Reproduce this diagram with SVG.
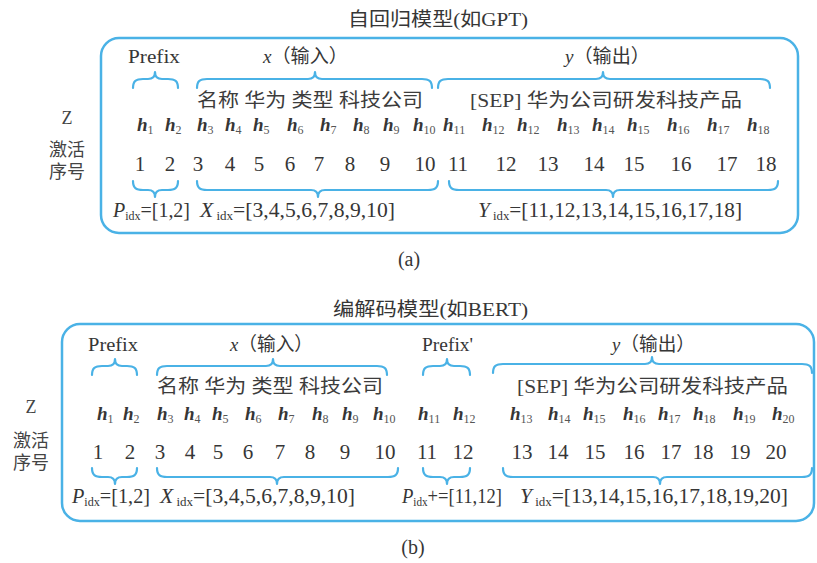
<svg xmlns="http://www.w3.org/2000/svg" width="817" height="563" viewBox="0 0 817 563">
<style>
text{font-family:"Liberation Serif","Noto Sans CJK SC",serif;fill:#363636;}
.ttl{font-size:19px;}
.lab{font-size:19px;}
.zh{font-size:19px;fill:#3c3c3c;}
.h{font-size:19px;font-weight:bold;font-style:italic;}
.s{font-size:12px;font-weight:normal;font-style:normal;fill:#555;}
.n{font-size:21px;text-anchor:middle;}
.idx{font-size:20px;}
.it{font-style:italic;}
.ss{font-size:12px;}
.side{font-size:18px;text-anchor:middle;fill:#444;}
.box{fill:none;stroke:#4ab2e6;stroke-width:2.5;}
.br{fill:none;stroke:#4ab2e6;stroke-width:2.2;stroke-linecap:round;stroke-linejoin:round;}
</style>
<rect width="817" height="563" fill="#ffffff"/>

<!-- Panel (a) -->
<g id="panel-a">
  <text class="ttl" x="348" y="26" textLength="180" lengthAdjust="spacingAndGlyphs">自回归模型(如GPT)</text>
  <rect class="box" x="101" y="38" width="697" height="195" rx="18"/>
  <g id="a-side">
    <text class="side" x="67" y="124">Z</text>
    <text class="side" x="67" y="156">激活</text>
    <text class="side" x="67" y="178">序号</text>
  </g>
  <g id="a-prefix">
    <text class="lab" x="128" y="63" textLength="52" lengthAdjust="spacingAndGlyphs">Prefix</text>
  </g>
  <g id="a-x">
    <text class="lab" x="263" y="63" textLength="85" lengthAdjust="spacingAndGlyphs"><tspan class="it">x</tspan>（输入）</text>
    <text class="zh" x="197" y="107" textLength="226" lengthAdjust="spacingAndGlyphs">名称 华为 类型 科技公司</text>
  </g>
  <g id="a-y">
    <text class="lab" x="565" y="63" textLength="85" lengthAdjust="spacingAndGlyphs"><tspan class="it">y</tspan>（输出）</text>
    <text class="zh" x="470" y="107" textLength="272" lengthAdjust="spacingAndGlyphs">[SEP] 华为公司研发科技产品</text>
  </g>
  <g id="a-h">
    <text class="h" x="137" y="131">h<tspan class="s" dy="3">1</tspan></text>
    <text class="h" x="165" y="131">h<tspan class="s" dy="3">2</tspan></text>
    <text class="h" x="197" y="131">h<tspan class="s" dy="3">3</tspan></text>
    <text class="h" x="225" y="131">h<tspan class="s" dy="3">4</tspan></text>
    <text class="h" x="253" y="131">h<tspan class="s" dy="3">5</tspan></text>
    <text class="h" x="287" y="131">h<tspan class="s" dy="3">6</tspan></text>
    <text class="h" x="320" y="131">h<tspan class="s" dy="3">7</tspan></text>
    <text class="h" x="353" y="131">h<tspan class="s" dy="3">8</tspan></text>
    <text class="h" x="383" y="131">h<tspan class="s" dy="3">9</tspan></text>
    <text class="h" x="413" y="131">h<tspan class="s" dy="3">10</tspan></text>
    <text class="h" x="443" y="131">h<tspan class="s" dy="3">11</tspan></text>
    <text class="h" x="482" y="131">h<tspan class="s" dy="3">12</tspan></text>
    <text class="h" x="517" y="131">h<tspan class="s" dy="3">12</tspan></text>
    <text class="h" x="557" y="131">h<tspan class="s" dy="3">13</tspan></text>
    <text class="h" x="592" y="131">h<tspan class="s" dy="3">14</tspan></text>
    <text class="h" x="627" y="131">h<tspan class="s" dy="3">15</tspan></text>
    <text class="h" x="667" y="131">h<tspan class="s" dy="3">16</tspan></text>
    <text class="h" x="707" y="131">h<tspan class="s" dy="3">17</tspan></text>
    <text class="h" x="747" y="131">h<tspan class="s" dy="3">18</tspan></text>
  </g>
  <g id="a-num">
    <text class="n" x="140" y="171">1</text>
    <text class="n" x="170" y="171">2</text>
    <text class="n" x="198" y="171">3</text>
    <text class="n" x="230" y="171">4</text>
    <text class="n" x="259" y="171">5</text>
    <text class="n" x="290" y="171">6</text>
    <text class="n" x="319" y="171">7</text>
    <text class="n" x="350" y="171">8</text>
    <text class="n" x="385" y="171">9</text>
    <text class="n" x="425" y="171">10</text>
    <text class="n" x="458" y="171">11</text>
    <text class="n" x="506" y="171">12</text>
    <text class="n" x="548" y="171">13</text>
    <text class="n" x="594" y="171">14</text>
    <text class="n" x="634" y="171">15</text>
    <text class="n" x="681" y="171">16</text>
    <text class="n" x="727" y="171">17</text>
    <text class="n" x="766" y="171">18</text>
  </g>
  <g id="a-idx">
    <text class="idx" x="113" y="217" textLength="77" lengthAdjust="spacingAndGlyphs"><tspan class="it">P</tspan><tspan class="ss" dy="3">idx</tspan><tspan dy="-3">=[1,2]</tspan></text>
    <text class="idx" x="200" y="217" textLength="195" lengthAdjust="spacingAndGlyphs"><tspan class="it">X</tspan><tspan class="ss" dy="3"> idx</tspan><tspan dy="-3">=[3,4,5,6,7,8,9,10]</tspan></text>
    <text class="idx" x="478" y="217" textLength="264" lengthAdjust="spacingAndGlyphs"><tspan class="it">Y</tspan><tspan class="ss" dy="3"> idx</tspan><tspan dy="-3">=[11,12,13,14,15,16,17,18]</tspan></text>
  </g>
  <text class="lab" x="409" y="266" text-anchor="middle" style="font-size:20px">(a)</text>
</g>

<!-- Panel (b) -->
<g id="panel-b">
  <text class="ttl" x="333" y="316" textLength="195" lengthAdjust="spacingAndGlyphs">编解码模型(如BERT)</text>
  <rect class="box" x="62" y="324" width="752" height="197" rx="18"/>
  <g id="b-side">
    <text class="side" x="31" y="413">Z</text>
    <text class="side" x="31" y="447">激活</text>
    <text class="side" x="31" y="469">序号</text>
  </g>
  <g id="b-prefix">
    <text class="lab" x="88" y="351" textLength="50" lengthAdjust="spacingAndGlyphs">Prefix</text>
  </g>
  <g id="b-x">
    <text class="lab" x="230" y="351" textLength="83" lengthAdjust="spacingAndGlyphs"><tspan class="it">x</tspan>（输入）</text>
    <text class="zh" x="157" y="393" textLength="226" lengthAdjust="spacingAndGlyphs">名称 华为 类型 科技公司</text>
  </g>
  <g id="b-prefix2">
    <text class="lab" x="422" y="351" textLength="51" lengthAdjust="spacingAndGlyphs">Prefix'</text>
  </g>
  <g id="b-y">
    <text class="lab" x="612" y="351" textLength="83" lengthAdjust="spacingAndGlyphs"><tspan class="it">y</tspan>（输出）</text>
    <text class="zh" x="517" y="393" textLength="271" lengthAdjust="spacingAndGlyphs">[SEP] 华为公司研发科技产品</text>
  </g>
  <g id="b-h">
    <text class="h" x="97" y="420">h<tspan class="s" dy="3">1</tspan></text>
    <text class="h" x="123" y="420">h<tspan class="s" dy="3">2</tspan></text>
    <text class="h" x="157" y="420">h<tspan class="s" dy="3">3</tspan></text>
    <text class="h" x="184" y="420">h<tspan class="s" dy="3">4</tspan></text>
    <text class="h" x="212" y="420">h<tspan class="s" dy="3">5</tspan></text>
    <text class="h" x="245" y="420">h<tspan class="s" dy="3">6</tspan></text>
    <text class="h" x="278" y="420">h<tspan class="s" dy="3">7</tspan></text>
    <text class="h" x="312" y="420">h<tspan class="s" dy="3">8</tspan></text>
    <text class="h" x="342" y="420">h<tspan class="s" dy="3">9</tspan></text>
    <text class="h" x="373" y="420">h<tspan class="s" dy="3">10</tspan></text>
    <text class="h" x="418" y="420">h<tspan class="s" dy="3">11</tspan></text>
    <text class="h" x="453" y="420">h<tspan class="s" dy="3">12</tspan></text>
    <text class="h" x="510" y="420">h<tspan class="s" dy="3">13</tspan></text>
    <text class="h" x="548" y="420">h<tspan class="s" dy="3">14</tspan></text>
    <text class="h" x="583" y="420">h<tspan class="s" dy="3">15</tspan></text>
    <text class="h" x="623" y="420">h<tspan class="s" dy="3">16</tspan></text>
    <text class="h" x="658" y="420">h<tspan class="s" dy="3">17</tspan></text>
    <text class="h" x="693" y="420">h<tspan class="s" dy="3">18</tspan></text>
    <text class="h" x="733" y="420">h<tspan class="s" dy="3">19</tspan></text>
    <text class="h" x="772" y="420">h<tspan class="s" dy="3">20</tspan></text>
  </g>
  <g id="b-num">
    <text class="n" x="98" y="459">1</text>
    <text class="n" x="130" y="459">2</text>
    <text class="n" x="160" y="459">3</text>
    <text class="n" x="190" y="459">4</text>
    <text class="n" x="218" y="459">5</text>
    <text class="n" x="248" y="459">6</text>
    <text class="n" x="280" y="459">7</text>
    <text class="n" x="310" y="459">8</text>
    <text class="n" x="345" y="459">9</text>
    <text class="n" x="385" y="459">10</text>
    <text class="n" x="427" y="459">11</text>
    <text class="n" x="463" y="459">12</text>
    <text class="n" x="522" y="459">13</text>
    <text class="n" x="558" y="459">14</text>
    <text class="n" x="595" y="459">15</text>
    <text class="n" x="634" y="459">16</text>
    <text class="n" x="671" y="459">17</text>
    <text class="n" x="703" y="459">18</text>
    <text class="n" x="740" y="459">19</text>
    <text class="n" x="776" y="459">20</text>
  </g>
  <g id="b-idx">
    <text class="idx" x="72" y="503" textLength="78" lengthAdjust="spacingAndGlyphs"><tspan class="it">P</tspan><tspan class="ss" dy="3">idx</tspan><tspan dy="-3">=[1,2]</tspan></text>
    <text class="idx" x="160" y="503" textLength="195" lengthAdjust="spacingAndGlyphs"><tspan class="it">X</tspan><tspan class="ss" dy="3"> idx</tspan><tspan dy="-3">=[3,4,5,6,7,8,9,10]</tspan></text>
    <text class="idx" x="402" y="503" textLength="100" lengthAdjust="spacingAndGlyphs"><tspan class="it">P</tspan><tspan class="ss" dy="3">idx</tspan><tspan dy="-3">+=[11,12]</tspan></text>
    <text class="idx" x="520" y="503" textLength="268" lengthAdjust="spacingAndGlyphs"><tspan class="it">Y</tspan><tspan class="ss" dy="3"> idx</tspan><tspan dy="-3">=[13,14,15,16,17,18,19,20]</tspan></text>
  </g>
  <text class="lab" x="413" y="554" text-anchor="middle" style="font-size:20px">(b)</text>
</g>

<!-- Braces -->
<g id="connectors">
  <path class="br" d="M133 88 C133 81 136 79 143 79 L148 79 C152 79 155 77 155 72 C155 77 158 79 162 79 L168 79 C175 79 178 81 178 88"/>
  <path class="br" d="M197 88 C197 81 200 79 207 79 L308 79 C312 79 315 77 315 72 C315 77 318 79 322 79 L422 79 C429 79 432 81 432 88"/>
  <path class="br" d="M438 88 C438 81 441 79 448 79 L596 79 C600 79 603 77 603 72 C603 77 606 79 610 79 L760 79 C767 79 770 81 770 88"/>
  <path class="br" d="M133 181 C133 188 136 190 143 190 L148 190 C152 190 155 192 155 197 C155 192 158 190 162 190 L168 190 C175 190 178 188 178 181"/>
  <path class="br" d="M197 181 C197 188 200 190 207 190 L311 190 C315 190 318 192 318 197 C318 192 321 190 325 190 L428 190 C435 190 438 188 438 181"/>
  <path class="br" d="M449 181 C449 188 452 190 459 190 L606 190 C610 190 613 192 613 197 C613 192 616 190 620 190 L768 190 C775 190 778 188 778 181"/>
  <path class="br" d="M92 375 C92 368 95 366 102 366 L108 366 C112 366 115 364 115 359 C115 364 118 366 122 366 L127 366 C134 366 137 368 137 375"/>
  <path class="br" d="M157 375 C157 368 160 366 167 366 L266 366 C270 366 273 364 273 359 C273 364 276 366 280 366 L377 366 C384 366 387 368 387 375"/>
  <path class="br" d="M423 375 C423 368 426 366 433 366 L440 366 C444 366 447 364 447 359 C447 364 450 366 454 366 L460 366 C467 366 470 368 470 375"/>
  <path class="br" d="M493 373 C493 366 496 364 503 364 L645 364 C649 364 652 362 652 357 C652 362 655 364 659 364 L802 364 C809 364 812 366 812 373"/>
  <path class="br" d="M92 468 C92 475 95 477 102 477 L108 477 C112 477 115 479 115 484 C115 479 118 477 122 477 L127 477 C134 477 137 475 137 468"/>
  <path class="br" d="M157 468 C157 475 160 477 167 477 L270 477 C274 477 277 479 277 484 C277 479 280 477 284 477 L388 477 C395 477 398 475 398 468"/>
  <path class="br" d="M423 468 C423 475 426 477 433 477 L440 477 C444 477 447 479 447 484 C447 479 450 477 454 477 L460 477 C467 477 470 475 470 468"/>
  <path class="br" d="M503 468 C503 475 506 477 513 477 L653 477 C657 477 660 479 660 484 C660 479 663 477 667 477 L802 477 C809 477 812 475 812 468"/>
</g>
</svg>
